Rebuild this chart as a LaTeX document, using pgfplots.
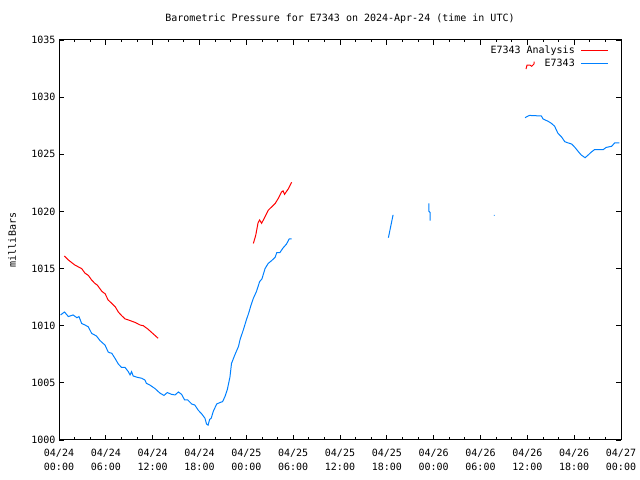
\documentclass[border=0pt]{standalone}
\usepackage{fontspec}
\setmainfont{DejaVu Sans Mono}
\usepackage{pgfplots}
\pgfplotsset{compat=1.18}
\definecolor{gpred}{RGB}{255,0,0}
\definecolor{gpblue}{RGB}{0,128,255}
\begin{document}
\begin{tikzpicture}[font=\fontsize{10bp}{14bp}\selectfont]
\useasboundingbox (0,0) rectangle (640bp,480bp);
\begin{axis}[
  at={(59bp,40bp)}, anchor=south west,
  width=562bp, height=400bp, scale only axis,
  xmin=0, xmax=72, ymin=1000, ymax=1035,
  xtick={0,6,...,72},
  xticklabels={{04/24\\00:00},{04/24\\06:00},{04/24\\12:00},{04/24\\18:00},{04/25\\00:00},{04/25\\06:00},{04/25\\12:00},{04/25\\18:00},{04/26\\00:00},{04/26\\06:00},{04/26\\12:00},{04/26\\18:00},{04/27\\00:00}},
  xticklabel style={align=center, yshift=-6bp},
  minor x tick num=2,
  ytick={1000,1005,...,1035},
  tick align=inside,
  major tick length=5bp, minor tick length=2.5bp,
  tick style={black, line width=0.8bp},
  axis line style={line width=1bp},
  /pgf/number format/assume math mode=true,
  /pgf/number format/set thousands separator={},
  ylabel={milliBars},
  ylabel style={at={(axis description cs:-0.0836,0.5)}, anchor=center},
  title={Barometric Pressure for E7343 on 2024-Apr-24 (time in UTC)},
  title style={at={(axis description cs:0.5,1)}, anchor=base, yshift=13bp},
  unbounded coords=jump,
  legend style={draw=none, fill=none, at={(axis description cs:0.9786,0.99)}, anchor=north east, cells={anchor=east}, row sep=0bp, inner sep=0pt},
  legend plot pos=right,
  legend image code/.code={\path (0bp,0bp); \draw[#1] (4bp,0bp) -- (31bp,0bp);},
]
\addplot[gpred, line width=1bp] table {
0.68 1016.1
1.2 1015.75
2.05 1015.3
2.9 1015.0
3.33 1014.6
3.76 1014.4
4.18 1014.0
4.6 1013.7
4.9 1013.56
5.5 1013.0
5.9 1012.8
6.3 1012.25
6.75 1011.96
7.2 1011.66
7.6 1011.2
8.0 1010.9
8.45 1010.6
8.9 1010.5
9.7 1010.3
10.4 1010.06
10.8 1010.0
11.4 1009.7
12.1 1009.27
12.7 1008.9
nan nan
24.9 1017.2
25.2 1017.9
25.5 1019.0
25.7 1019.25
25.96 1018.96
26.4 1019.55
26.8 1020.1
27.25 1020.4
27.7 1020.7
28.1 1021.15
28.5 1021.7
28.7 1021.8
28.9 1021.5
29.4 1022.0
29.8 1022.55
nan nan
59.83 1032.46
59.96 1032.8
60.34 1032.8
60.56 1032.7
60.85 1032.9
60.87 1033.1
};
\addlegendentry{E7343 Analysis}
\addplot[gpblue, line width=1bp] table {
0.2 1010.94
0.7 1011.2
1.2 1010.8
1.8 1010.94
2.3 1010.7
2.56 1010.8
2.9 1010.2
3.33 1010.06
3.76 1009.9
4.18 1009.33
4.8 1009.1
5.25 1008.7
5.9 1008.3
6.3 1007.7
6.5 1007.63
6.75 1007.6
7.17 1007.15
7.6 1006.65
8.0 1006.36
8.45 1006.36
8.88 1005.98
9.1 1005.7
9.3 1005.98
9.5 1005.6
9.95 1005.5
10.6 1005.4
11.0 1005.25
11.2 1004.96
11.66 1004.8
12.3 1004.5
12.94 1004.1
13.45 1003.9
13.87 1004.15
14.4 1004.0
14.86 1003.94
15.3 1004.2
15.7 1004.0
16.1 1003.5
16.5 1003.5
17.0 1003.15
17.4 1003.06
17.85 1002.6
18.3 1002.27
18.7 1001.9
18.9 1001.4
19.1 1001.3
19.3 1001.8
19.5 1001.9
19.76 1002.5
20.2 1003.15
20.6 1003.27
20.96 1003.36
21.26 1003.8
21.56 1004.4
21.9 1005.5
22.1 1006.7
22.5 1007.4
23.0 1008.2
23.2 1008.8
23.6 1009.6
24.0 1010.5
24.3 1011.1
24.6 1011.8
24.9 1012.4
25.3 1013.0
25.7 1013.85
26.0 1014.1
26.4 1015.0
26.8 1015.45
27.25 1015.7
27.7 1016.0
27.9 1016.4
28.3 1016.4
28.7 1016.8
29.15 1017.15
29.5 1017.6
29.8 1017.6
nan nan
42.2 1017.7
42.5 1018.7
42.8 1019.7
nan nan
47.4 1020.7
47.4 1020.0
47.55 1019.9
47.55 1019.2
nan nan
55.72 1019.65
55.8 1019.65
nan nan
59.7 1028.2
60.1 1028.35
60.3 1028.4
61.8 1028.35
62.0 1028.1
62.7 1027.87
63.1 1027.7
63.5 1027.45
63.9 1026.86
64.4 1026.5
64.8 1026.1
65.2 1026.0
65.67 1025.9
66.1 1025.6
66.5 1025.26
66.9 1024.94
67.4 1024.7
67.8 1024.94
68.2 1025.2
68.6 1025.4
69.7 1025.4
70.1 1025.6
70.8 1025.7
71.2 1026.0
71.8 1026.0
};
\addlegendentry{E7343}
\end{axis}
\end{tikzpicture}
\end{document}
